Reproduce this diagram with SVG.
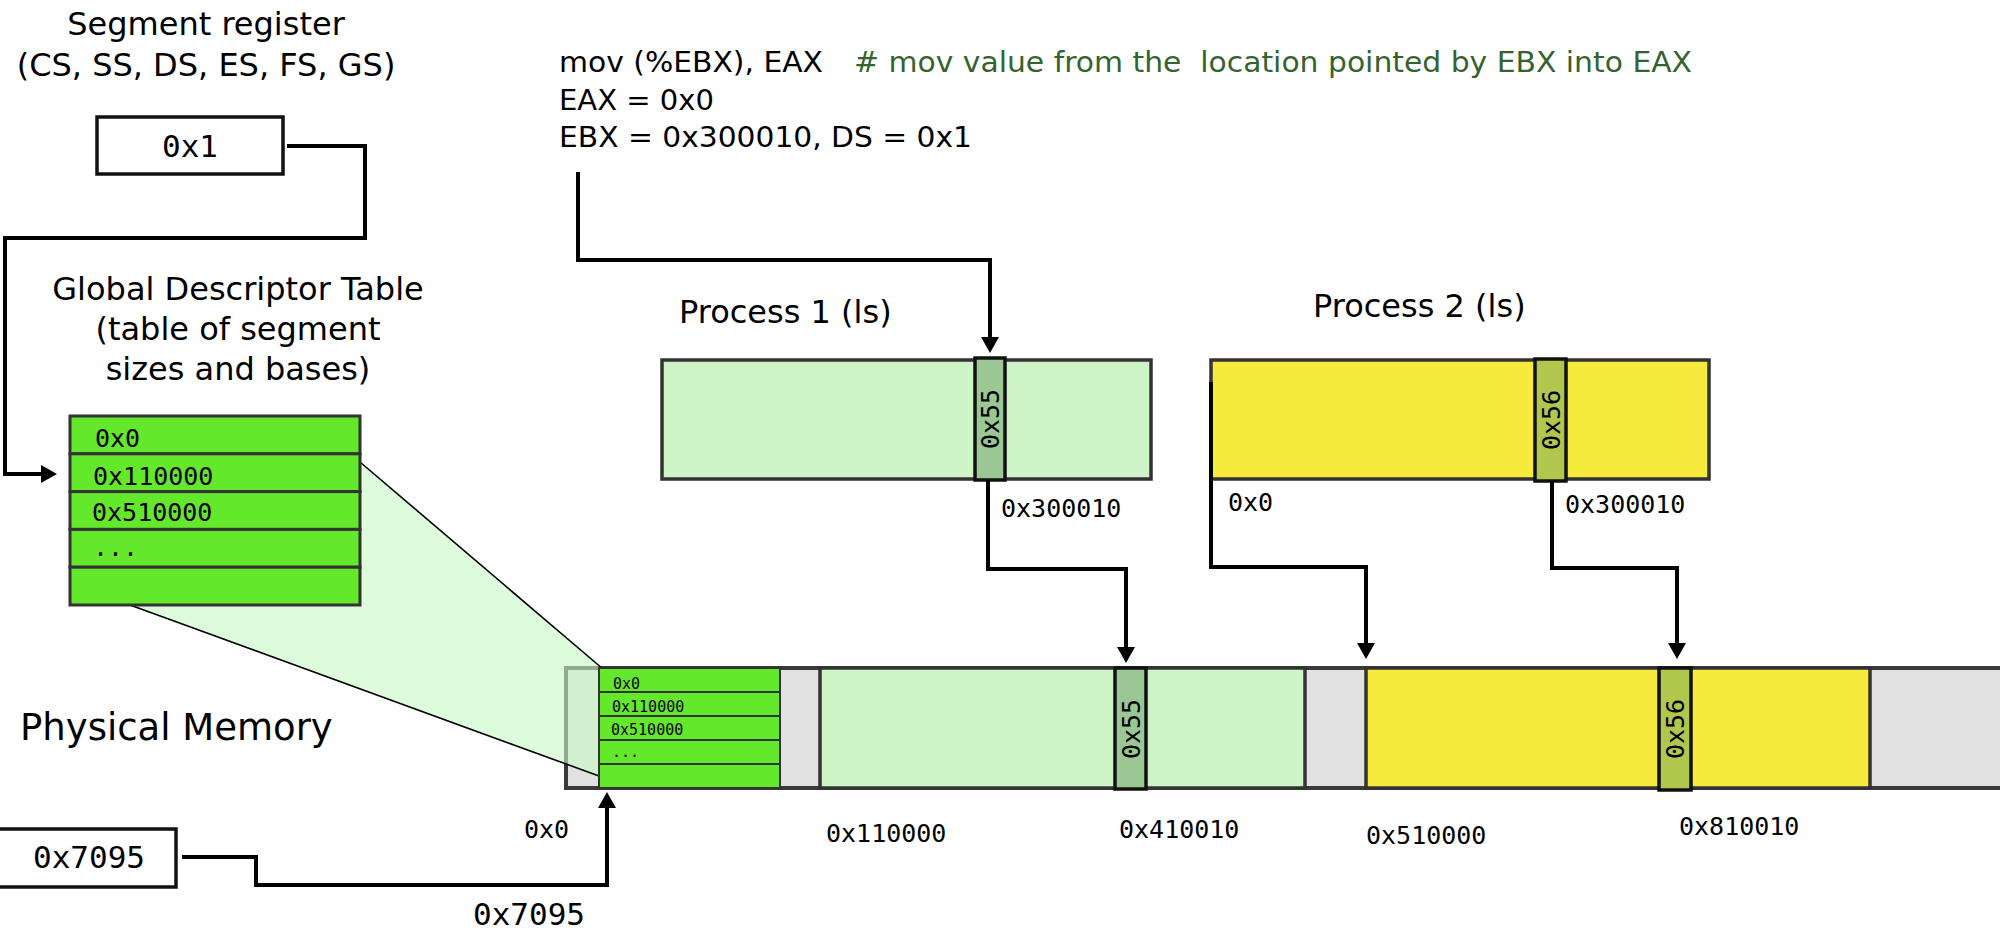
<svg xmlns="http://www.w3.org/2000/svg" width="2000" height="931" viewBox="0 0 2000 931">
<style>
.sans{font-family:"DejaVu Sans","Noto Sans",sans-serif;fill:#000}
.mono{font-family:"DejaVu Sans Mono","Liberation Mono",monospace;fill:#000}
.conn{fill:none;stroke:#000;stroke-width:4}
.box{fill:#fff;stroke:#111;stroke-width:3.5}
.gdt{fill:#63e82b;stroke:#333;stroke-width:3}
.sgdt{fill:#63e82b;stroke:#333;stroke-width:2}
.p1{fill:#cef3c6;stroke:#333;stroke-width:3.5}
.p2{fill:#f6eb3c;stroke:#333;stroke-width:3.5}
.c55{fill:#9bc795;stroke:#111;stroke-width:3.5}
.c56{fill:#b1c64c;stroke:#111;stroke-width:3.5}
.grey{fill:#e1e1e1;stroke:#3a3a3a;stroke-width:4}
.thin{fill:none;stroke:#000;stroke-width:1.6}
</style>
<defs>
<marker id="ah" viewBox="0 0 16 18" refX="6" refY="9" markerWidth="16" markerHeight="18" markerUnits="userSpaceOnUse" orient="auto"><path d="M0,0L16,9L0,18z" fill="#000"/></marker>
</defs>
<rect width="2000" height="931" fill="#fff"/>

<g id="segment-register">
<text class="sans" x="206" y="35" font-size="32" text-anchor="middle">Segment register</text>
<text class="sans" x="206" y="76" font-size="32" text-anchor="middle">(CS, SS, DS, ES, FS, GS)</text>
<rect class="box" x="97" y="117" width="186" height="57"/>
<text class="mono" x="190" y="157" font-size="31" text-anchor="middle">0x1</text>
</g>

<g id="code">
<text class="sans" x="559" y="72" font-size="28" textLength="264" lengthAdjust="spacingAndGlyphs">mov (%EBX), EAX</text>
<text class="sans" x="854" y="72" font-size="28" fill="#356330" style="fill:#356330;white-space:pre" textLength="838" lengthAdjust="spacingAndGlyphs"># mov value from the  location pointed by EBX into EAX</text>
<text class="sans" x="559" y="110" font-size="28" textLength="155" lengthAdjust="spacingAndGlyphs">EAX = 0x0</text>
<text class="sans" x="559" y="147" font-size="28" textLength="413" lengthAdjust="spacingAndGlyphs">EBX = 0x300010, DS = 0x1</text>
</g>

<g id="gdt-label">
<text class="sans" x="238" y="300" font-size="32" text-anchor="middle">Global Descriptor Table</text>
<text class="sans" x="238" y="340" font-size="32" text-anchor="middle">(table of segment</text>
<text class="sans" x="238" y="380" font-size="32" text-anchor="middle">sizes and bases)</text>
</g>

<g id="process1">
<text class="sans" x="679" y="323" font-size="32">Process 1 (ls)</text>
<rect class="p1" x="662" y="360" width="489" height="119"/>
<rect class="c55" x="975" y="358" width="30" height="122"/>
<text class="mono" font-size="25" text-anchor="middle" dy="0.36em" transform="translate(990,419) rotate(-90)">0x55</text>
<text class="mono" x="1001" y="517" font-size="25">0x300010</text>
</g>

<g id="process2">
<text class="sans" x="1313" y="317" font-size="32">Process 2 (ls)</text>
<rect class="p2" x="1211" y="360" width="498" height="119"/>
<rect class="c56" x="1535" y="359" width="31" height="122"/>
<text class="mono" font-size="25" text-anchor="middle" dy="0.36em" transform="translate(1550.5,420) rotate(-90)">0x56</text>
<text class="mono" x="1228" y="511" font-size="25">0x0</text>
<text class="mono" x="1565" y="513" font-size="25">0x300010</text>
</g>

<g id="physical-memory">
<text class="sans" x="20" y="740" font-size="37">Physical Memory</text>
<rect class="grey" x="566" y="668" width="1450" height="120"/>
<rect class="p1" x="820" y="668" width="485" height="120"/>
<rect class="c55" x="1115" y="668" width="31" height="121"/>
<text class="mono" font-size="25" text-anchor="middle" dy="0.36em" transform="translate(1130.5,729) rotate(-90)">0x55</text>
<rect class="p2" x="1366" y="668" width="504" height="120"/>
<rect class="c56" x="1659" y="668" width="32" height="122"/>
<text class="mono" font-size="25" text-anchor="middle" dy="0.36em" transform="translate(1675,729) rotate(-90)">0x56</text>
<text class="mono" x="524" y="838" font-size="25">0x0</text>
<text class="mono" x="826" y="842" font-size="25">0x110000</text>
<text class="mono" x="1119" y="838" font-size="25">0x410010</text>
<text class="mono" x="1366" y="844" font-size="25">0x510000</text>
<text class="mono" x="1679" y="835" font-size="25">0x810010</text>
</g>

<g id="gdt-zoom">
<polygon points="360,462 603,669 599,776 130,605 360,605" fill="#c5fac5" fill-opacity="0.6"/>
<line class="thin" x1="360" y1="462" x2="603" y2="669"/>
<line class="thin" x1="130" y1="605" x2="599" y2="776"/>
</g>

<g id="gdt-in-memory">
<rect class="sgdt" x="599" y="668" width="181" height="24"/>
<rect class="sgdt" x="599" y="692" width="181" height="24"/>
<rect class="sgdt" x="599" y="716" width="181" height="24"/>
<rect class="sgdt" x="599" y="740" width="181" height="24"/>
<rect class="sgdt" x="599" y="764" width="181" height="24"/>
<text class="mono" x="613" y="689" font-size="15">0x0</text>
<text class="mono" x="612" y="712" font-size="15">0x110000</text>
<text class="mono" x="611" y="735" font-size="15">0x510000</text>
<text class="mono" x="612" y="757" font-size="15">...</text>
</g>

<g id="gdt-table">
<rect class="gdt" x="70" y="416" width="290" height="37.8"/>
<rect class="gdt" x="70" y="453.8" width="290" height="37.8"/>
<rect class="gdt" x="70" y="491.6" width="290" height="37.8"/>
<rect class="gdt" x="70" y="529.4" width="290" height="37.8"/>
<rect class="gdt" x="70" y="567.2" width="290" height="37.8"/>
<text class="mono" x="95" y="447" font-size="25">0x0</text>
<text class="mono" x="93" y="485" font-size="25">0x110000</text>
<text class="mono" x="92" y="521" font-size="25">0x510000</text>
<text class="mono" x="93" y="556" font-size="25">...</text>
</g>

<g id="offset-register">
<rect class="box" x="-10" y="829" width="186" height="58"/>
<text class="mono" x="33" y="868" font-size="31">0x7095</text>
<text class="mono" x="473" y="925" font-size="31">0x7095</text>
</g>

<g id="connectors">
<path class="conn" d="M287,146 H365 V238 H5 V474 H47" marker-end="url(#ah)"/>
<path class="conn" d="M578,172 V260 H990 V343" marker-end="url(#ah)"/>
<path class="conn" d="M988,480 V569 H1126 V653" marker-end="url(#ah)"/>
<path class="conn" d="M1211,382 V567 H1366 V649" marker-end="url(#ah)"/>
<path class="conn" d="M1552,481 V568 H1677 V649" marker-end="url(#ah)"/>
<path class="conn" d="M182,857 H256 V885 H607 V802" marker-end="url(#ah)"/>
</g>
</svg>
